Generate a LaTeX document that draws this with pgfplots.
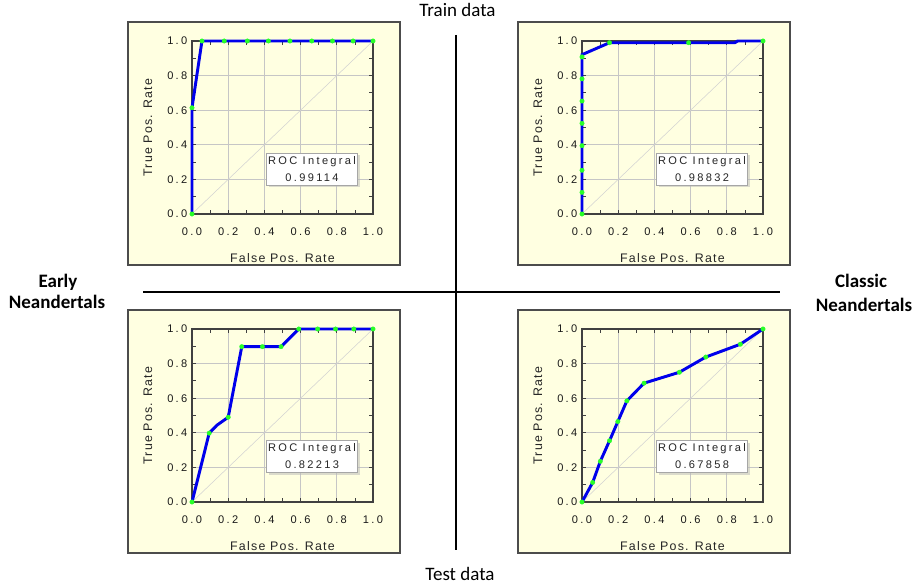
\documentclass[border=0pt]{standalone}
\usepackage{fontspec}
\setmainfont{Liberation Sans}
\newfontfamily\labelfont[LetterSpace=10]{Liberation Sans}
\newfontfamily\boxfont[LetterSpace=21]{Liberation Sans}
\newfontfamily\calfont{Carlito}
\usepackage{pgfplots}
\pgfplotsset{compat=1.18}
\usetikzlibrary{shadows}

\definecolor{panelbg}{RGB}{255,255,225}
\definecolor{rocblue}{RGB}{0,0,235}
\definecolor{rocgreen}{RGB}{40,255,40}

\pgfplotsset{
  rocstyle/.style={
    anchor=south west,
    scale only axis,
    width=135.75pt, height=129.75pt,
    xmin=0, xmax=1, ymin=0, ymax=1,
    clip=false,
    xtick={0,0.2,0.4,0.6,0.8,1}, ytick={0,0.2,0.4,0.6,0.8,1},
    minor xtick={0.1,0.3,0.5,0.7,0.9}, minor ytick={0.1,0.3,0.5,0.7,0.9},
    tick align=inside,
    major tick length=3pt, minor tick length=3pt,
    tick style={black!75, line width=0.6pt},
    grid=major,
    major grid style={gray!45, line width=0.6pt},
    axis line style={black!75, line width=0.9pt},
    axis background/.style={fill=panelbg},
    ticklabel style={font=\boxfont\fontsize{8.3}{9}\selectfont, text=black!90},
    /pgf/number format/.cd, fixed, fixed zerofill, precision=1, assume math mode=true,
    /pgfplots/.cd,
    xticklabel style={yshift=-6.8pt},
    xlabel={False Pos. Rate},
    ylabel={True Pos. Rate},
    label style={font=\labelfont\fontsize{9.3}{10}\selectfont, text=black!85},
    xlabel style={at={(axis description cs:0.5,-0.252)}, anchor=center},
    ylabel style={at={(axis description cs:-0.243,0.5)}, anchor=center},
  },
  rocline/.style={color=rocblue, line width=2.2pt, mark=none},
  rocmarks/.style={color=rocgreen, only marks, mark=*, mark size=1.7pt,
    mark options={solid, fill=rocgreen, draw=rocgreen, line width=0.2pt}},
  diag/.style={gray!35, line width=0.4pt, mark=none},
}
\tikzset{
  rocbox/.style={draw=gray!70, fill=white, line width=0.5pt,
    drop shadow={shadow xshift=1.8pt, shadow yshift=-1.8pt, fill=gray!55},
    minimum width=67.5pt, minimum height=24pt, inner sep=1pt, align=center,
    font=\boxfont\fontsize{8.3}{12.5}\selectfont, text=black!85},
}

\begin{document}
\begin{tikzpicture}
\path[use as bounding box] (0,0) rectangle (687pt,438.75pt);

% panel frames (pixel coordinates, y downward)
\begin{scope}[x=0.75pt, y=-0.75pt, yshift=438.75pt]
  \foreach \fx/\fy in {128/22, 518/22, 128/310, 518/310} {
    \filldraw[fill=panelbg, draw=gray!60!black, line width=0.8pt]
      (\fx,\fy) rectangle ++(272,243);
  }
\end{scope}

% Early Neandertals, train data
\begin{axis}[rocstyle, at={(144pt,278.25pt)}]
\addplot[diag] coordinates {(0,0) (1,1)};
\addplot[rocline] coordinates {
  (0,0) (0,0.614) (0.055,1) (0.178,1) (0.306,1) (0.422,1)
  (0.541,1) (0.662,1) (0.776,1) (0.89,1) (1,1)
};
\addplot[rocmarks] coordinates {
  (0,0) (0,0.614) (0.055,1) (0.178,1) (0.306,1) (0.422,1)
  (0.541,1) (0.662,1) (0.776,1) (0.89,1) (1,1)
};
\node[rocbox] at (axis cs:0.663,0.26) {ROC Integral\\0.99114};
\end{axis}

% Classic Neandertals, train data
\begin{axis}[rocstyle, at={(436.5pt,278.25pt)}]
\addplot[diag] coordinates {(0,0) (1,1)};
\addplot[rocline] coordinates {
  (0,0) (0,0.921) (0.152,0.99) (0.589,0.99) (0.844,0.99) (0.86,1) (1,1)
};
\addplot[rocmarks] coordinates {
  (0,0) (0,0.125) (0,0.253) (0,0.395) (0,0.524) (0,0.653) (0,0.781) (0,0.908)
  (0.152,0.99) (0.589,0.99) (1,1)
};
\node[rocbox] at (axis cs:0.663,0.26) {ROC Integral\\0.98832};
\end{axis}

% Early Neandertals, test data
\begin{axis}[rocstyle, at={(144pt,62.25pt)}]
\addplot[diag] coordinates {(0,0) (1,1)};
\addplot[rocline] coordinates {
  (0,0) (0.095,0.398) (0.138,0.444) (0.2,0.49) (0.275,0.898) (0.389,0.898)
  (0.492,0.898) (0.59,1) (0.694,1) (0.793,1) (0.894,1) (1,1)
};
\addplot[rocmarks] coordinates {
  (0,0) (0.095,0.398) (0.2,0.49) (0.275,0.898) (0.389,0.898)
  (0.492,0.898) (0.59,1) (0.694,1) (0.793,1) (0.894,1) (1,1)
};
\node[rocbox] at (axis cs:0.663,0.264) {ROC Integral\\0.82213};
\end{axis}

% Classic Neandertals, test data
\begin{axis}[rocstyle, at={(436.5pt,62.25pt)}]
\addplot[diag] coordinates {(0,0) (1,1)};
\addplot[rocline] coordinates {
  (0,0) (0.059,0.113) (0.101,0.235) (0.152,0.354) (0.198,0.465) (0.248,0.585)
  (0.343,0.687) (0.538,0.75) (0.684,0.838) (0.875,0.912) (1,1)
};
\addplot[rocmarks] coordinates {
  (0,0) (0.059,0.113) (0.101,0.235) (0.152,0.354) (0.198,0.465) (0.248,0.585)
  (0.343,0.687) (0.538,0.75) (0.684,0.838) (0.875,0.912) (1,1)
};
\node[rocbox] at (axis cs:0.663,0.264) {ROC Integral\\0.67858};
\end{axis}

% dividing cross and side titles
\begin{scope}[x=0.75pt, y=-0.75pt, yshift=438.75pt]
  \draw[line width=1.5pt] (143,292) -- (780,292);
  \draw[line width=1.5pt] (456,35) -- (456,550);
  \begin{scope}[every node/.style={font=\calfont\fontsize{14.25}{17}\selectfont, anchor=base, inner sep=0pt}]
    \node at (457.5,17) {Train data};
    \node at (460,580) {Test data};
    \node[font=\calfont\bfseries\fontsize{14.25}{17}\selectfont] at (58,288) {Early};
    \node[font=\calfont\bfseries\fontsize{14.25}{17}\selectfont] at (57,309) {Neandertals};
    \node[font=\calfont\bfseries\fontsize{14.25}{17}\selectfont] at (861,288) {Classic};
    \node[font=\calfont\bfseries\fontsize{14.25}{17}\selectfont] at (864,312) {Neandertals};
  \end{scope}
\end{scope}
\end{tikzpicture}
\end{document}
